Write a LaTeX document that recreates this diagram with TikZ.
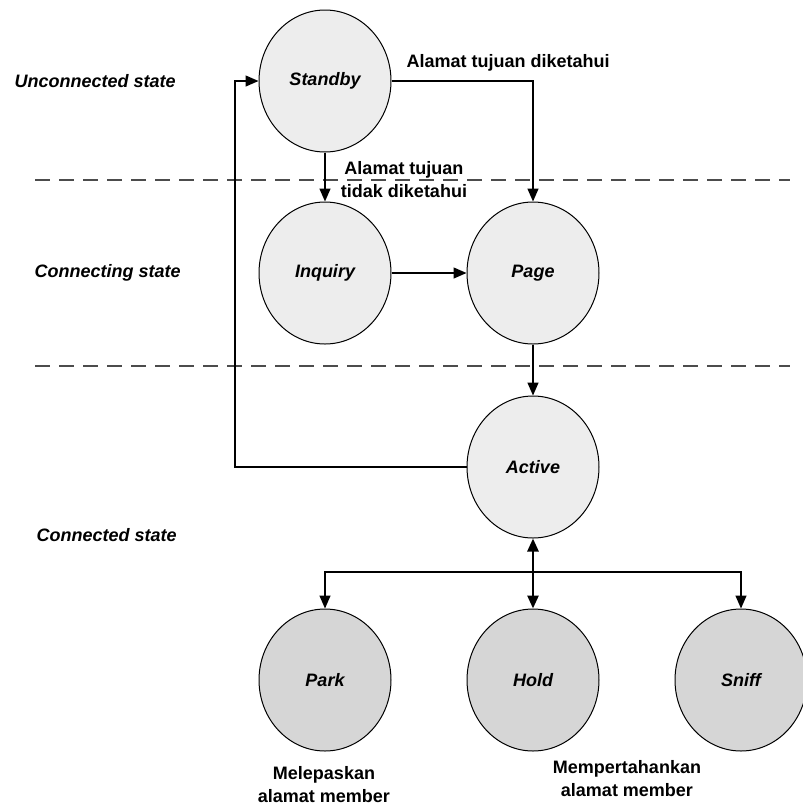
\documentclass[tikz,border=0pt]{standalone}
\usepackage{fontspec}
\setmainfont{Liberation Sans}
\usepackage{tikz}
\usetikzlibrary{arrows.meta,positioning,shapes.geometric}

\begin{document}
\begin{tikzpicture}[x=1pt,y=-1pt,
font=\fontsize{18}{23}\selectfont\bfseries,
state/.style={draw,ellipse,line width=1pt,minimum width=132pt,minimum height=142pt,inner sep=0pt,fill=black!7,font=\fontsize{18}{23}\selectfont\bfseries\itshape},
substate/.style={state,fill=black!16},
zone/.style={anchor=west,font=\fontsize{18}{23}\selectfont\bfseries\itshape},
arr/.style={line width=1.4pt,-{Triangle[length=13pt,width=11pt]}},
dbl/.style={line width=2.6pt,{Triangle[length=13pt,width=11pt]}-{Triangle[length=13pt,width=11pt]}},
border/.style={line width=1.6pt,draw=black!70,dash pattern=on 15pt off 9pt},
lbl/.style={align=center}]
\useasboundingbox (0,0) rectangle (803,807);
\node[state] (standby) at (325,81) {Standby};
\node[state] (inquiry) at (325,273) {Inquiry};
\node[state] (page) at (533,273) {Page};
\node[state] (active) at (533,467) {Active};
\node[substate] (park) at (325,680) {Park};
\node[substate] (hold) at (533,680) {Hold};
\node[substate] (sniff) at (741,680) {Sniff};
\coordinate (lineA) at (35,180);\coordinate (lineA2) at (790,180);
\coordinate (lineB) at (35,366);\coordinate (lineB2) at (790,366);
\draw[border] (lineA)--(lineA2);
\draw[border] (lineB)--(lineB2);
\node[zone] (unconn) at (11,81) {Unconnected state};
\node[zone] (conning) at (31,273) {Connecting state};
\node[zone] (conn) at (33,535) {Connected state};
\coordinate (back) at (235,467);
\coordinate (split) at (533,572);
\draw[arr] (standby.east) -| (page.north);
\draw[arr] (standby.south) -- (inquiry.north);
\draw[arr] (inquiry.east) -- (page.west);
\draw[arr] (page.south) -- (active.north);
\draw[arr] (active.west) -- (back) |- (standby.west);
\draw[dbl] (active.south) -- (hold.north);
\draw[arr] (split) -| (park.north);
\draw[arr] (split) -| (sniff.north);
\node[anchor=west] (known) at (403,63) {Alamat tujuan diketahui};
\node[lbl] (unknown) at (404,180) {Alamat tujuan\\tidak diketahui};
\node[lbl] (release) at (324,785) {Melepaskan\\alamat member};
\node[lbl] (keep) at (627,779) {Mempertahankan\\alamat member};
\end{tikzpicture}
\end{document}
